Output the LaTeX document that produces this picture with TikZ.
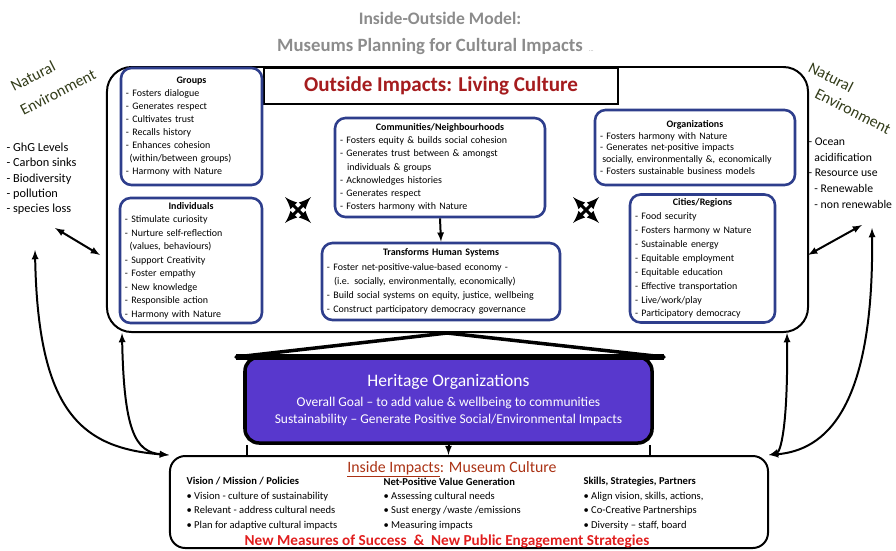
\documentclass[tikz,border=0pt]{standalone}
\usepackage{fontspec}
\setmainfont{Carlito}
\usepackage{tikz}
\usetikzlibrary{positioning}
\usetikzlibrary{calc}
\definecolor{navybox}{RGB}{46,62,140}
\definecolor{heritagefill}{RGB}{88,56,205}
\definecolor{titlered}{RGB}{165,28,30}
\definecolor{insidebrown}{RGB}{170,50,20}
\definecolor{natgreen}{RGB}{50,60,25}
\definecolor{titlegray}{RGB}{140,140,140}
\definecolor{measurered}{RGB}{225,30,30}
\newcommand{\boxhead}[1]{\hfill\textbf{#1}\hfill\hbox{}\\}
\tikzset{every picture/.style={line width=1pt},
  impact/.style={draw=navybox, line width=2.2pt, rounded corners=9pt, fill=white, align=left, inner xsep=0.15cm, font=\fontsize{8.5}{11}\selectfont},
  bigbox/.style={draw, line width=1.7pt, rounded corners=21pt},
  natlabel/.style={text=natgreen, font=\fontsize{13.5}{15}\selectfont},
  natlist/.style={align=left, anchor=north west, inner sep=0pt, font=\fontsize{10.5}{13.2}\selectfont},
  col/.style={align=left, anchor=north west, inner sep=0pt, font=\fontsize{9}{12.3}\selectfont},
  link/.style={latex-latex, line width=1.7pt}}
\begin{document}
\begin{tikzpicture}[x=0.03cm,y=-0.03cm]
\useasboundingbox (0,0) rectangle (896,550);

\node (title) at (440,18) [text=titlegray, font=\fontsize{15}{18}\selectfont\bfseries] {Inside-Outside Model:};
\node (subtitle) at (430,47) [text=titlegray, font=\fontsize{16}{18}\selectfont\bfseries] {Museums Planning for Cultural Impacts};
\node (dots) at (subtitle.base east) [anchor=base west, inner sep=1pt, text=titlegray, font=\tiny] {...};

\node (outside) at (457.5,199.5) [bigbox, minimum width=21.03cm, minimum height=7.95cm] {};
\node (living) at (441,86) [draw, line width=1.2pt, fill=white, minimum width=10.62cm, minimum height=1.08cm, text=titlered, font=\fontsize{18}{20}\selectfont\bfseries] {Outside Impacts: Living Culture};

\node (groups) at (191.5,126.5) [impact, text width=3.93cm, minimum height=3.51cm] {\boxhead{Groups}- Fosters dialogue\\- Generates respect\\- Cultivates trust\\- Recalls history\\- Enhances cohesion\\\hspace*{3pt}(within/between groups)\\- Harmony with Nature};
\node (individuals) at (191,260.5) [impact, text width=3.96cm, minimum height=3.75cm, font=\fontsize{8.5}{11.5}\selectfont] {\boxhead{Individuals}- Stimulate curiosity\\- Nurture self-reflection\\\hspace*{4pt}(values, behaviours)\\- Support Creativity\\- Foster empathy\\- New knowledge\\- Responsible action\\- Harmony with Nature};
\node (communities) at (440,167.5) [impact, text width=6.0cm, minimum height=2.97cm, font=\fontsize{8.5}{11.3}\selectfont] {\boxhead{Communities/Neighbourhoods}- Fosters equity \& builds social cohesion\\- Generates trust between \& amongst\\\hspace*{6pt}individuals \& groups\\- Acknowledges histories\\- Generates respect\\- Fosters harmony with Nature};
\node (transforms) at (441,281.5) [impact, text width=6.84cm, minimum height=2.31cm, font=\fontsize{8.5}{12}\selectfont] {\boxhead{Transforms Human Systems}- Foster net-positive-value-based economy -\\\hspace*{6pt}(i.e. socially, environmentally, economically)\\- Build social systems on equity, justice, wellbeing\\- Construct participatory democracy governance};
\node (organizations) at (695,147.5) [impact, text width=5.7cm, minimum height=2.25cm, font=\fontsize{8.5}{10.2}\selectfont] {\boxhead{Organizations}- Fosters harmony with Nature\\- Generates net-positive impacts\\\hspace*{2pt}socially, environmentally \&, economically\\- Fosters sustainable business models};
\node (cities) at (702.5,258.5) [impact, text width=4.05cm, minimum height=3.81cm, font=\fontsize{8.5}{11.9}\selectfont] {\boxhead{Cities/Regions}- Food security\\- Fosters harmony w Nature\\- Sustainable energy\\- Equitable employment\\- Equitable education\\- Effective transportation\\- Live/work/play\\- Participatory democracy};

\draw[-latex, line width=1.7pt] (communities.south) -- (transforms.north);

\coordinate (crossL) at (298,210);
\coordinate (crossR) at (586,210);
\foreach \c in {crossL,crossR} {
  \draw[latex-latex, line width=2.6pt] ($(\c)+(-13,-13)$) -- ($(\c)+(13,13)$);
  \draw[latex-latex, line width=2.6pt] ($(\c)+(-13,13)$) -- ($(\c)+(13,-13)$);
}

\node (heritage) at (448.5,400) [draw, line width=3pt, rounded corners=12pt, fill=heritagefill, text=white, minimum width=12.21cm, minimum height=2.58cm, align=center, font=\fontsize{11.5}{15}\selectfont] {{\fontsize{15}{18}\selectfont Heritage Organizations}\\[2pt]Overall Goal -- to add value \& wellbeing to communities\\Sustainability -- Generate Positive Social/Environmental Impacts};
\draw[line width=3pt, line join=round, fill=white] (236,357) -- (447,333) -- (664,357) -- cycle;
\draw[line width=5pt] (236,357) -- (664,357);

\node (inside) at (469,502) [bigbox, rounded corners=13pt, minimum width=17.94cm, minimum height=2.76cm] {};
\node (insidetitle) at (452,469) [text=insidebrown, font=\fontsize{13.5}{15}\selectfont] {\underline{Inside Impacts}: Museum Culture};
\node (vision) at (186,477) [col] {\textbf{Vision / Mission / Policies}\\• Vision - culture of sustainability\\• Relevant - address cultural needs\\• Plan for adaptive cultural impacts};
\node (value) at (383,477) [col] {\textbf{Net-Positive Value Generation}\\• Assessing cultural needs\\• Sust energy /waste /emissions\\• Measuring impacts};
\node (skills) at (583,477) [col] {\textbf{Skills, Strategies, Partners}\\• Align vision, skills, actions,\\• Co-Creative Partnerships\\• Diversity -- staff, board};
\node (measures) at (447,541) [text=measurered, font=\fontsize{13}{15}\selectfont\bfseries] {New Measures of Success \ \& \ New Public Engagement Strategies};

\coordinate (wallL) at ($(heritage.south west)+(4,0)$);
\coordinate (wallR) at ($(heritage.south east)+(-4,0)$);
\draw[line width=1.7pt] (wallL) -- (wallL |- inside.north);
\draw[line width=1.7pt] (wallR) -- (wallR |- inside.north);
\draw[-latex, line width=1.7pt] (heritage.south) -- (heritage.south |- inside.north);

\node (natL1) at (33,76) [natlabel, rotate=27] {Natural};
\node (natL2) at (58,92) [natlabel, rotate=27] {Environment};
\node (natLlist) at (6,142) [natlist] {- GhG Levels\\- Carbon sinks\\- Biodiversity\\- pollution\\- species loss};
\node (natR1) at (831,77) [natlabel, rotate=-27] {Natural};
\node (natR2) at (853,111) [natlabel, rotate=-27] {Environment};
\node (natRlist) at (808,137) [natlist, font=\fontsize{10}{13.5}\selectfont] {- Ocean\\\hspace*{5pt}acidification\\- Resource use\\\hspace*{5pt}- Renewable\\\hspace*{5pt}- non renewable};

\coordinate (natLa) at (55,228);
\coordinate (natLb) at (100,255);
\coordinate (natRa) at (862,225);
\coordinate (natRb) at (808,255);
\coordinate (natLfoot) at (35,250);
\coordinate (natRfoot) at (872,228);
\coordinate (outLfoot) at ($(outside.south west)+(16,0)$);
\coordinate (outRfoot) at ($(outside.south east)+(-22,0)$);

\draw[link] (natLa) -- (natLb);
\draw[link] (natRa) -- (natRb);
\draw[link] (natLfoot) .. controls (38,410) and (80,448) .. (inside.north west);
\draw[link] (outLfoot) .. controls (124,430) and (135,452) .. (inside.north west);
\draw[link] (outRfoot) .. controls (788,430) and (780,452) .. (inside.north east);
\draw[link] (natRfoot) .. controls (874,410) and (825,450) .. (inside.north east);
\end{tikzpicture}
\end{document}
